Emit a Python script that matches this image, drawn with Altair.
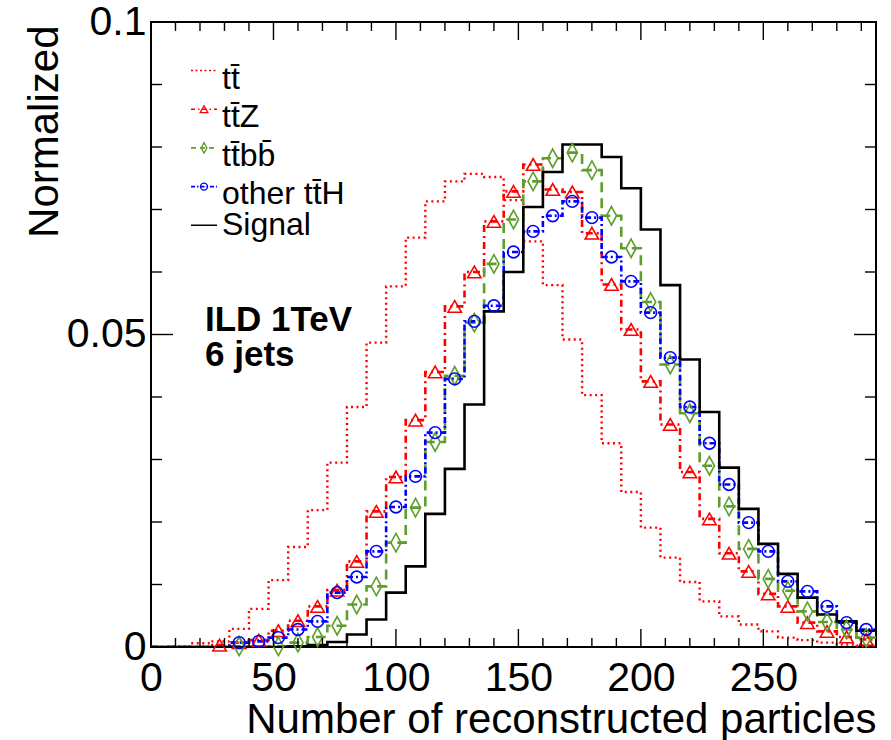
import altair as alt
import pandas as pd

# ---------------- data (normalized bin contents, bins of width 8 from 0 to 296) ----------------
BIN = 8
XMAX = 296

signal = [0, 0, 0, 0, 0, 0, 0, 0.0001, 0.0003, 0.0008, 0.0020, 0.0044, 0.0087, 0.0129,
          0.0213, 0.0285, 0.0388, 0.0537, 0.0600, 0.0704, 0.0760, 0.0804, 0.0804, 0.0784,
          0.0734, 0.0668, 0.0579, 0.0460, 0.0376, 0.0287, 0.0221, 0.0165, 0.0117, 0.0079,
          0.0052, 0.0041, 0.0026]
ttbar = [0, 0.0001, 0.0006, 0.0009, 0.0029, 0.0061, 0.0107, 0.0160, 0.0219, 0.0295, 0.0384,
         0.0487, 0.0577, 0.0655, 0.0713, 0.0745, 0.0757, 0.0752, 0.0715, 0.0649, 0.0579,
         0.0492, 0.0403, 0.0326, 0.0248, 0.0191, 0.0143, 0.0104, 0.0073, 0.0049, 0.0036,
         0.0025, 0.0015, 0.0011, 0.0007, 0.0004, 0.0002]
ttz = [0, 0, 0, 0.0003, 0.0007, 0.0011, 0.0026, 0.0042, 0.0065, 0.0091, 0.0137, 0.0217,
       0.0272, 0.0363, 0.0440, 0.0545, 0.0600, 0.0681, 0.0729, 0.0772, 0.0732, 0.0728,
       0.0662, 0.0580, 0.0508, 0.0425, 0.0356, 0.0280, 0.0205, 0.0150, 0.0121, 0.0085,
       0.0065, 0.0039, 0.0025, 0.0016, 0.0012]
ttbb = [0, 0, 0, 0, 0.0001, 0, 0.0001, 0.0007, 0.0016, 0.0034, 0.0068, 0.0097, 0.0167,
        0.0223, 0.0328, 0.0434, 0.0519, 0.0613, 0.0684, 0.0745, 0.0782, 0.0791, 0.0763,
        0.0690, 0.0638, 0.0552, 0.0452, 0.0374, 0.0290, 0.0225, 0.0157, 0.0109, 0.0090,
        0.0057, 0.0040, 0.0028, 0.0015]
other_tth = [0, 0, 0, 0, 0.0007, 0.0009, 0.0015, 0.0028, 0.0041, 0.0087, 0.0112, 0.0153,
             0.0224, 0.0273, 0.0343, 0.0429, 0.0521, 0.0546, 0.0632, 0.0665, 0.0690, 0.0713,
             0.0687, 0.0624, 0.0585, 0.0535, 0.0463, 0.0384, 0.0326, 0.0260, 0.0199, 0.0153,
             0.0105, 0.0089, 0.0065, 0.0039, 0.0028]

x_labels = [0, 50, 100, 150, 200, 250]
x_major = [50, 100, 150, 200, 250]
x_minor = [10, 20, 30, 40, 60, 70, 80, 90, 110, 120, 130, 140, 160, 170, 180, 190,
           210, 220, 230, 240, 260, 270, 280, 290]
y_labels = [0, 0.05, 0.1]
y_major = [0.05]
y_minor = [0.01, 0.02, 0.03, 0.04, 0.06, 0.07, 0.08, 0.09]

legend_labels = ["tt\u0304", "tt\u0304Z", "tt\u0304bb\u0304", "other tt\u0304H", "Signal"]
legend_keys = ["ttbar", "ttz", "ttbb", "tth", "signal"]
legend_text_shift = [6, 6, 6, 5.5, -2]   # TLatex centring shift (overbars push text down)
annotation_lines = ["ILD 1TeV", "6 jets"]

# ---------------- layout / style ----------------
W, H = 725, 625
FONT = "Liberation Sans"
RED, GREEN, BLUE, BLACK = "#ff0000", "#5e9e2c", "#0000ff", "#000000"
DIAMOND = "M0,-1L0.55,0L0,1L-0.55,0Z"

xs = alt.Scale(domain=[0, XMAX], nice=False, zero=False)
ys = alt.Scale(domain=[0, 0.1], nice=False, zero=False)

x_axis = alt.Axis(values=x_labels, format="d", ticks=False, domain=False, grid=False,
                  labelFont=FONT, labelFontSize=41, labelColor=BLACK, labelPadding=11,
                  labelFlush=False, labelOverlap=False,
                  title="Number of reconstructed particles", titleFont=FONT,
                  titleFontSize=42, titleFontWeight="normal", titleColor=BLACK,
                  titleX=W, titleY=85, titleAlign="right", titleBaseline="alphabetic")
y_axis = alt.Axis(values=y_labels, format=".2~f", ticks=False, domain=False, grid=False,
                  labelFont=FONT, labelFontSize=41, labelColor=BLACK, labelPadding=5,
                  labelFlush=False, labelOverlap=False,
                  title="Normalized", titleFont=FONT, titleFontSize=42,
                  titleFontWeight="normal", titleColor=BLACK, titleAngle=-90,
                  titleX=-94, titleY=3, titleAlign="right", titleBaseline="alphabetic")


def X(field):
    return alt.X(field, type="quantitative", scale=xs, axis=x_axis)


def Y(field):
    return alt.Y(field, type="quantitative", scale=ys, axis=y_axis)


def step_df(vals):
    return pd.DataFrame({"x": [i * BIN for i in range(len(vals))] + [XMAX],
                         "v": list(vals) + [vals[-1]]})


def pts_df(vals):
    return pd.DataFrame({"x": [i * BIN + BIN / 2 for i, v in enumerate(vals) if v > 0],
                         "v": [v for v in vals if v > 0]})


def step_layer(vals, color, dash, width):
    return alt.Chart(step_df(vals)).mark_line(
        interpolate="step-after", color=color, strokeWidth=width, strokeDash=dash,
        clip=True).encode(x=X("x"), y=Y("v"))


def point_layer(vals, color, shape, size):
    return alt.Chart(pts_df(vals)).mark_point(
        shape=shape, filled=False, color=color, size=size, strokeWidth=1.6,
        opacity=1).encode(x=X("x"), y=Y("v"))


layers = [
    step_layer(ttbar, RED, [2, 3.5], 2.4),
    step_layer(ttz, RED, [7, 4, 2, 4], 2.6),
    step_layer(ttbb, GREEN, [10, 6], 2.6),
    step_layer(other_tth, BLUE, [6, 3, 2, 3], 2.6),
    step_layer(signal, BLACK, [1, 0], 2.6),
    point_layer(ttz, RED, "triangle-up", 180),
    point_layer(ttbb, GREEN, DIAMOND, 340),
    point_layer(other_tth, BLUE, "circle", 140),
]


# ---------------- inward ticks on all four sides ----------------
def xtick(vals, length):
    df = pd.DataFrame({"t": vals})
    bottom = alt.Chart(df).mark_rule(color=BLACK, strokeWidth=1.4).encode(
        x=X("t"), y=alt.value(H), y2=alt.value(H - length))
    top = alt.Chart(df).mark_rule(color=BLACK, strokeWidth=1.4).encode(
        x=X("t"), y=alt.value(0), y2=alt.value(length))
    return [bottom, top]


def ytick(vals, length):
    df = pd.DataFrame({"t": vals})
    left = alt.Chart(df).mark_rule(color=BLACK, strokeWidth=1.4).encode(
        y=Y("t"), x=alt.value(0), x2=alt.value(length))
    right = alt.Chart(df).mark_rule(color=BLACK, strokeWidth=1.4).encode(
        y=Y("t"), x=alt.value(W - length), x2=alt.value(W))
    return [left, right]


layers += xtick(x_major, 18) + xtick(x_minor, 9) + ytick(y_major, 22) + ytick(y_minor, 11)

# ---------------- legend ----------------
leg_df = pd.DataFrame({"label": legend_labels, "key": legend_keys,
                       "row": list(range(len(legend_labels))),
                       "shift": legend_text_shift})
leg = alt.Chart(leg_df).transform_calculate(
    ypos="48.5 + 38.7 * datum.row",
    ytext="48.5 + 38.7 * datum.row + 12 + datum.shift")

leg_styles = {
    "ttbar": (RED, [2, 2.5], None, None),
    "ttz": (RED, [4, 3, 1.5, 3], "triangle-up", 60),
    "ttbb": (GREEN, [5, 4], DIAMOND, 110),
    "tth": (BLUE, [4, 2, 1.5, 2], "circle", 50),
    "signal": (BLACK, [1, 0], None, None),
}
for key, (col, dash, shape, size) in leg_styles.items():
    sub = leg.transform_filter(alt.datum.key == key)
    layers.append(sub.mark_rule(color=col, strokeDash=dash, strokeWidth=1.6).encode(
        x=alt.value(40), x2=alt.value(66), y=alt.Y("ypos:Q", scale=None, axis=None)))
    if shape:
        layers.append(sub.mark_point(shape=shape, filled=False, color=col, size=size,
                                     strokeWidth=1.3, opacity=1).encode(
            x=alt.value(53), y=alt.Y("ypos:Q", scale=None, axis=None)))

layers.append(leg.mark_text(font=FONT, fontSize=32, align="left", baseline="alphabetic",
                            color=BLACK).encode(
    x=alt.value(71), y=alt.Y("ytext:Q", scale=None, axis=None), text="label:N"))

# ---------------- annotation ----------------
ann_df = pd.DataFrame({"text": annotation_lines, "row": [0, 1]})
layers.append(alt.Chart(ann_df).transform_calculate(ypos="309 + 35 * datum.row").mark_text(
    font=FONT, fontSize=35, fontWeight="bold", align="left", baseline="alphabetic",
    color=BLACK).encode(x=alt.value(54), y=alt.Y("ypos:Q", scale=None, axis=None),
                        text="text:N"))

chart = alt.layer(*layers).properties(
    width=W, height=H,
    autosize=alt.AutoSizeParams(type="none"),
    padding={"left": 151, "top": 22, "right": 15, "bottom": 93},
    background="white",
).configure_view(stroke=BLACK, strokeWidth=2)

chart.save("out.html", embed_options={"renderer": "svg", "actions": False})
